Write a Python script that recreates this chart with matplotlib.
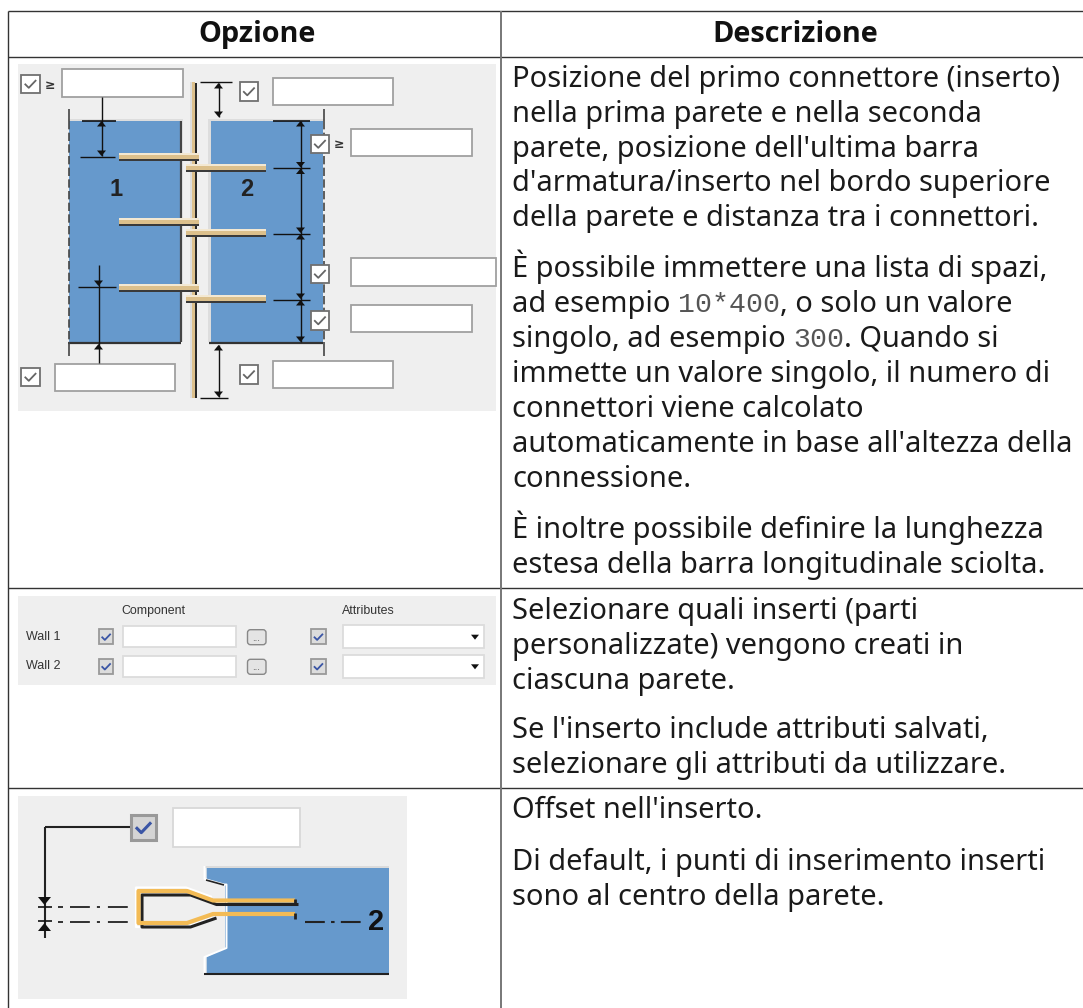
import matplotlib
matplotlib.use("Agg")
import matplotlib.pyplot as plt
from matplotlib.patches import Rectangle, Polygon, FancyBboxPatch

plt.rcParams['font.family'] = ['Noto Sans', 'DejaVu Sans']

W, H = 1083, 1008

# testo della tabella
headers = ["Opzione", "Descrizione"]
row1_lines = [
    "Posizione del primo connettore (inserto)",
    "nella prima parete e nella seconda",
    "parete, posizione dell'ultima barra",
    "d'armatura/inserto nel bordo superiore",
    "della parete e distanza tra i connettori.",
]
row1b_lines = [
    [("È possibile immettere una lista di spazi,", False)],
    [("ad esempio ", False), ("10*400", True), (", o solo un valore", False)],
    [("singolo, ad esempio ", False), ("300", True), (". Quando si", False)],
    [("immette un valore singolo, il numero di", False)],
    [("connettori viene calcolato", False)],
    [("automaticamente in base all'altezza della", False)],
    [("connessione.", False)],
]
row1c_lines = [
    "È inoltre possibile definire la lunghezza",
    "estesa della barra longitudinale sciolta.",
]
row2_lines = [
    "Selezionare quali inserti (parti",
    "personalizzate) vengono creati in",
    "ciascuna parete.",
]
row2b_lines = [
    "Se l'inserto include attributi salvati,",
    "selezionare gli attributi da utilizzare.",
]
row3_lines = ["Offset nell'inserto."]
row3b_lines = [
    "Di default, i punti di inserimento inserti",
    "sono al centro della parete.",
]

wall_labels = ["Wall 1", "Wall 2"]
column_labels = ["Component", "Attributes"]

BLUE = "#6699cc"
PANEL = "#efefef"
TAN = "#dcc08c"
BODY_SIZE = 20.9
LINE_H = 34.9
BLACK = "#111111"

fig = plt.figure(figsize=(W / 100, H / 100), dpi=100)
ax = fig.add_axes([0, 0, 1, 1])
ax.set_xlim(0, W)
ax.set_ylim(H, 0)
ax.axis("off")


def rect(x0, y0, x1, y1, fc="none", ec="none", lw=1.0, z=2):
    ax.add_patch(Rectangle((x0, y0), x1 - x0, y1 - y0, fc=fc, ec=ec, lw=lw, zorder=z))


def line(xs, ys, c=BLACK, lw=1.0, ls="-", z=4):
    ax.plot(xs, ys, color=c, lw=lw, ls=ls, zorder=z, solid_capstyle="butt")


def arrow_v(x, y, up=True, s=4.5, h=5.5):
    # punta di freccia, y = vertice
    d = h if up else -h
    ax.add_patch(Polygon([(x, y), (x - s, y + d), (x + s, y + d)], fc=BLACK, ec="none", zorder=5))


def check(x, y, size=18.5, fc="white", ec="#707070", c="#666666", lw=1.3):
    rect(x, y, x + size, y + size, fc=fc, ec=ec, lw=lw, z=5)
    line([x + size * .2, x + size * .42, x + size * .82],
         [y + size * .5, y + size * .72, y + size * .3], c=c, lw=lw, z=6)


def box(x0, y0, x1, y1, ec="#a0a0a0", lw=1.3):
    rect(x0, y0, x1, y1, fc="white", ec=ec, lw=lw, z=3)


def bar(x0, x1, y):
    rect(x0, y - 4, x1, y + 4, fc="#3a3a3a", z=6)
    rect(x0, y - 4, x1, y + 2, fc=TAN, z=7)
    rect(x0, y - 4, x1, y - 2, fc="#f3e8d2", z=8)


def body(lines, x, y):
    for i, t in enumerate(lines):
        ax.text(x, y + i * LINE_H, t, fontsize=BODY_SIZE, color="#1a1a1a", va="baseline", ha="left")


def body_mixed(lines, x, y, step):
    r = fig.canvas.get_renderer()
    for i, parts in enumerate(lines):
        cx = x
        for t, mono in parts:
            fam = ["Liberation Mono"] if mono else ["Noto Sans", "DejaVu Sans"]
            col = "#555555" if mono else "#1a1a1a"
            size = 20.3 if mono else BODY_SIZE
            ax.text(cx, y + i * step, t, fontsize=size, family=fam, color=col, va="baseline", ha="left")
            # gli spazi finali non contano nel bbox: misuro con spazi non separabili
            probe = ax.text(0, 0, t.replace(" ", "\u00a0"), fontsize=size, family=fam)
            cx += probe.get_window_extent(r).width
            probe.remove()


# griglia della tabella
GRID = "#333333"
line([7.5, W], [11, 11], GRID, 1.0)
line([7.5, W], [56.5, 56.5], GRID, 1.0)
line([7.5, W], [588.3, 588.3], GRID, 1.0)
line([7.5, W], [788.3, 788.3], GRID, 1.0)
line([7.5, 7.5], [11, H], GRID, 1.0)
line([501, 501], [11, H], "#777777", 1.4)

ax.text(257, 41.7, headers[0], fontsize=20.8, family="Open Sans", fontweight="bold", ha="center", va="baseline", color=BLACK)
ax.text(795, 41.7, headers[1], fontsize=20.8, family="Open Sans", fontweight="bold", ha="center", va="baseline", color=BLACK)

TX = 512
body(row1_lines, TX, 86.7)
body_mixed(row1b_lines, TX, 276.7, 35.1)
body(row1c_lines, TX, 537.7)
body(row2_lines, TX, 619)
body(row2b_lines, TX, 738.5)
body(row3_lines, TX, 818.3)
body(row3b_lines, TX, 870)

# primo riquadro: pareti e connettori
rect(18, 64, 496, 411, fc=PANEL, z=1)
rect(67.5, 118.5, 182.5, 121, fc="#dddddd", z=1.5)
rect(207.5, 118.5, 325, 121, fc="#dddddd", z=1.5)
rect(207.5, 118.5, 211, 342, fc="#dddddd", z=1.5)
rect(69, 121, 181, 342, fc=BLUE, z=2)
rect(211, 121, 323, 342, fc=BLUE, z=2)
line([68.5, 68.5], [109, 121], "#444444", 1.2)
line([68.5, 68.5], [121, 342], "#444444", 1.2, ls=(0, (5, 2)))
line([323.5, 323.5], [109, 121], "#444444", 1.2)
line([323.5, 323.5], [121, 342], "#444444", 1.2, ls=(0, (5, 2)))
line([181, 181], [121, 342], "#444444", 1.6)
line([68, 181], [342.5, 342.5], "#333333", 1.6)
line([209, 323], [342.5, 342.5], "#333333", 1.6)
line([68.5, 68.5], [342, 356], "#444444", 1.2)
line([323.5, 323.5], [342, 356], "#444444", 1.2)
rect(189.5, 82, 191.5, 398, fc="#dddddd", z=3)
rect(191.5, 82, 195, 398, fc=TAN, z=4)
line([196, 196], [83, 398], "#222222", 1.4, z=5)
ax.text(116, 190, "1", fontsize=17, family="Liberation Sans", fontweight="bold", ha="center", va="center", color="#222222", zorder=6)
ax.text(247, 190, "2", fontsize=17, family="Liberation Sans", fontweight="bold", ha="center", va="center", color="#222222", zorder=6)
for y in [157, 222, 288]:
    bar(119, 199, y)
for y in [168, 233, 299]:
    bar(186, 266, y)

# quote parete 1
line([101.5, 101.5], [97, 156], lw=1.0)
line([82, 116], [120.5, 120.5], lw=1.2)
line([80, 115], [157, 157], lw=1.0)
arrow_v(101.5, 121, True)
arrow_v(101.5, 156, False)
line([98.5, 98.5], [265, 363], lw=1.0)
line([78, 116], [287, 287], lw=1.0)
arrow_v(98.5, 286, False)
arrow_v(98.5, 344, True)
# quote centrali
line([200, 232], [82, 82], lw=1.0)
line([218.5, 218.5], [83, 117], lw=1.0)
arrow_v(218.5, 83, True)
arrow_v(218.5, 117, False)
line([218.5, 218.5], [345, 397], lw=1.0)
line([200, 228], [398, 398], lw=1.0)
arrow_v(218.5, 345, True)
arrow_v(218.5, 397, False)
# quote parete 2
line([273, 310], [120.5, 120.5], lw=1.2)
line([300.5, 300.5], [121, 342], lw=1.0)
for y in [168, 233.5, 299.5]:
    line([273, 310], [y, y], lw=1.0)
    arrow_v(300.5, y - 0.5, False)
    arrow_v(300.5, y + 0.5, True)
arrow_v(300.5, 121, True)
arrow_v(300.5, 342, False)

box(62, 69, 183, 97)
box(273, 78, 393, 105)
box(351, 129, 472, 156)
box(351, 258, 496, 286)
box(351, 305, 472, 332)
box(55, 364, 175, 391)
box(273, 361, 393, 388)
check(21, 74.5)
check(239.5, 82)
check(310.5, 134.5)
check(310.5, 264.5)
check(310.5, 311)
check(21, 367.5)
check(239.5, 365)
ax.text(50, 85.5, "≥", fontsize=9, fontweight="bold", ha="center", va="center", color="#333333", family="DejaVu Sans")
ax.text(339, 145, "≥", fontsize=9, fontweight="bold", ha="center", va="center", color="#333333", family="DejaVu Sans")

# secondo riquadro: Wall 1 / Wall 2
rect(18, 596, 496, 685, fc=PANEL, z=1)
ax.text(121.5, 610.7, column_labels[0], fontsize=8.9, family="Liberation Sans", va="center", color="#333333")
ax.text(341.5, 610.7, column_labels[1], fontsize=8.9, family="Liberation Sans", va="center", color="#333333")
for label, y in zip(wall_labels, [636.7, 666.3]):
    ax.text(25.5, y, label, fontsize=9, family="Liberation Sans", va="center", color="#333333")
    for cx in [106, 318.3]:
        check(cx - 7.3, y - 7.3, size=14.6, fc="#dcdcdc", ec="#999999", c="#3a55a5", lw=1.3)
    box(123, y - 10.7, 235.7, y + 10.7, ec="#dcdcdc")
    box(343, y - 11.3, 484, y + 11.3, ec="#dcdcdc")
    ax.add_patch(FancyBboxPatch((249, y - 5.5), 15.5, 12, boxstyle="round,pad=1.5,rounding_size=3",
                                fc="#e4e4e4", ec="#888888", lw=1.0, zorder=5))
    ax.text(256.5, y + 1, "...", fontsize=7, family="Liberation Sans", ha="center", va="center", color="#555555", zorder=6)
    ax.add_patch(Polygon([(471, y - 2), (479, y - 2), (475, y + 3)], fc=BLACK, ec="none", zorder=5))

# terzo riquadro: offset inserto
rect(18, 796, 407, 999, fc=PANEL, z=1)
wall = [(206.7, 868), (389, 868), (389, 973), (206.7, 973), (206.7, 957), (225, 948), (225, 885), (206.7, 880)]
ax.add_patch(Polygon(wall, fc=BLUE, ec="none", zorder=2))
line([203.5, 389], [866.5, 866.5], "#d8d8d8", 1.2, z=3)
line([204.5, 204.5, 224, 226.5, 226.5, 204.5, 204.5], [866, 879, 884.5, 884.5, 948, 957, 973], "white", 1.4, z=3)
line([204, 389], [973.5, 973.5], "#222222", 1.5)
line([206, 224], [880, 885], "#222222", 1.2)
rx = [295, 213, 187, 138.5, 138.5, 187, 213, 295]
up_y = [900.5, 900.5, 891, 891, 923, 923, 914, 914]
line([212, 186, 136, 136, 186, 212], [897, 887.5, 887.5, 927, 927, 918], "white", 1.6, z=3)
line([x + 3.5 for x in rx[:-1]], [v + 4 for v in up_y[:-1]], "#222222", 2.2, z=5)
line(rx, up_y, "#f3bb55", 3.0, z=6)
line([295, 295], [899, 904], "#222222", 2.0, z=7)
line([295, 295], [912.5, 919], "#222222", 2.0, z=7)
box(173, 808, 300, 847, ec="#d8d8d8")
check(131, 815, size=24.5, fc="#d4d4d4", ec="#999999", c="#3a55a5", lw=2.2)
line([44.5, 131], [827, 827], "#222222", 1.5)
line([44.5, 44.5], [827, 938], "#222222", 1.5)
arrow_v(44.5, 905, False, s=6.5, h=8)
arrow_v(44.5, 923, True, s=6.5, h=8)
line([38, 52], [907, 907], lw=1.2)
line([38, 52], [921, 921], lw=1.2)
DASH = (0, (11, 3.9, 1.7, 4.4))
for y in [907.3, 921.5]:
    line([58, 63], [y, y], "#222222", 1.3)
    line([70, 128], [y, y], "#222222", 1.3, ls=DASH)
line([305, 363], [921.5, 921.5], "#222222", 1.5, ls=(0, (9.5, 3, 1.7, 3)))
ax.text(376, 922, "2", fontsize=21, family="Liberation Sans", fontweight="bold", ha="center", va="center", color=BLACK, zorder=6)

fig.savefig("out.png", dpi=100)
